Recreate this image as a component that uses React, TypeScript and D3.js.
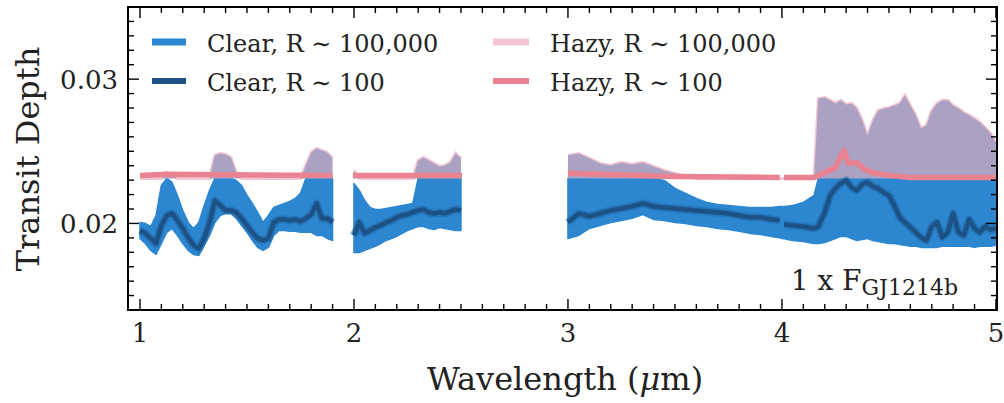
import React from 'react';
import * as d3 from 'd3';

// ---------------- DATA ----------------
// Segment 1 (1.0 - 1.9 micron)
const seg1Wave = [1.000, 1.025, 1.050, 1.075, 1.100, 1.125, 1.150, 1.175, 1.200, 1.225, 1.250, 1.275, 1.300, 1.325, 1.350, 1.375, 1.400, 1.425, 1.450, 1.475, 1.500, 1.525, 1.550, 1.575, 1.600, 1.625, 1.650, 1.675, 1.700, 1.725, 1.750, 1.775, 1.800, 1.825, 1.850, 1.875, 1.900];
const seg1ClearHi = [0.02007, 0.02000, 0.01979, 0.02055, 0.02263, 0.02312, 0.02284, 0.02194, 0.02090, 0.02007, 0.01965, 0.02007, 0.02125, 0.02229, 0.02312, 0.02312, 0.02312, 0.02312, 0.02298, 0.02263, 0.02194, 0.02139, 0.02076, 0.02007, 0.02055, 0.02111, 0.02125, 0.02139, 0.02152, 0.02173, 0.02208, 0.02312, 0.02312, 0.02312, 0.02312, 0.02312, 0.02312];
const seg1ClearLo = [0.01896, 0.01861, 0.01813, 0.01785, 0.01861, 0.01938, 0.01965, 0.01917, 0.01861, 0.01813, 0.01785, 0.01778, 0.01848, 0.01917, 0.02007, 0.02055, 0.02069, 0.02069, 0.02035, 0.01986, 0.01938, 0.01882, 0.01834, 0.01813, 0.01834, 0.01917, 0.01951, 0.01951, 0.01945, 0.01945, 0.01938, 0.01938, 0.01938, 0.01917, 0.01917, 0.01896, 0.01882];
const seg1ClearR100 = [0.01951, 0.01931, 0.01896, 0.01861, 0.01986, 0.02055, 0.02069, 0.02021, 0.01965, 0.01903, 0.01848, 0.01827, 0.01896, 0.02007, 0.02159, 0.02125, 0.02090, 0.02090, 0.02076, 0.02035, 0.01986, 0.01938, 0.01896, 0.01882, 0.01896, 0.02007, 0.02028, 0.02028, 0.02021, 0.02028, 0.02014, 0.02035, 0.02062, 0.02139, 0.02035, 0.02035, 0.02007];
const seg1HazyHi = [0.02312, 0.02312, 0.02312, 0.02312, 0.02312, 0.02353, 0.02340, 0.02312, 0.02312, 0.02312, 0.02312, 0.02312, 0.02312, 0.02312, 0.02471, 0.02485, 0.02478, 0.02457, 0.02353, 0.02312, 0.02312, 0.02312, 0.02312, 0.02312, 0.02312, 0.02312, 0.02312, 0.02312, 0.02312, 0.02312, 0.02312, 0.02402, 0.02492, 0.02520, 0.02506, 0.02492, 0.02451];

// Segment 2 (2.0 - 2.5 micron)
const seg2Wave = [2.000, 2.025, 2.050, 2.075, 2.100, 2.125, 2.150, 2.175, 2.200, 2.225, 2.250, 2.275, 2.300, 2.325, 2.350, 2.375, 2.400, 2.425, 2.450, 2.475, 2.500];
const seg2ClearHi = [0.02277, 0.02229, 0.02159, 0.02111, 0.02097, 0.02097, 0.02104, 0.02111, 0.02118, 0.02125, 0.02132, 0.02139, 0.02312, 0.02312, 0.02312, 0.02312, 0.02312, 0.02312, 0.02312, 0.02312, 0.02312];
const seg2ClearLo = [0.01799, 0.01799, 0.01813, 0.01827, 0.01841, 0.01861, 0.01882, 0.01896, 0.01910, 0.01931, 0.01951, 0.01965, 0.01979, 0.01979, 0.01965, 0.01958, 0.01972, 0.01965, 0.01958, 0.01951, 0.01951];
const seg2ClearR100 = [0.01917, 0.02007, 0.01931, 0.01951, 0.01972, 0.01986, 0.02007, 0.02021, 0.02042, 0.02055, 0.02062, 0.02076, 0.02090, 0.02097, 0.02076, 0.02069, 0.02076, 0.02069, 0.02083, 0.02097, 0.02090];
const seg2HazyHi = [0.02367, 0.02312, 0.02312, 0.02312, 0.02312, 0.02312, 0.02312, 0.02312, 0.02312, 0.02312, 0.02312, 0.02312, 0.02437, 0.02457, 0.02437, 0.02416, 0.02395, 0.02402, 0.02423, 0.02485, 0.02451];

// Segment 3 (3.0 - 5.0 micron)
const seg3Wave = [3.00, 3.05, 3.10, 3.15, 3.20, 3.25, 3.30, 3.35, 3.40, 3.45, 3.50, 3.55, 3.60, 3.65, 3.70, 3.75, 3.80, 3.85, 3.90, 3.95, 3.99, 4.00, 4.01, 4.05, 4.10, 4.15,
  4.170, 4.200, 4.225, 4.250, 4.275, 4.300, 4.325, 4.350, 4.375, 4.400, 4.425, 4.450, 4.475, 4.500, 4.525, 4.550, 4.575, 4.600, 4.625, 4.650, 4.675, 4.700, 4.725, 4.750, 4.775, 4.800, 4.825, 4.850, 4.875, 4.900, 4.925, 4.950, 4.975, 5.000];
const seg3ClearHi = [0.02312, 0.02312, 0.02312, 0.02312, 0.02312, 0.02312, 0.02312, 0.02312, 0.02312, 0.02298, 0.02243, 0.02208, 0.02173, 0.02146, 0.02132, 0.02125, 0.02118, 0.02111, 0.02111, 0.02111, 0.02118, 0.02118, 0.02118, 0.02125, 0.02146, 0.02194,
  0.02312, 0.02312, 0.02312, 0.02312, 0.02312, 0.02312, 0.02312, 0.02312, 0.02312, 0.02312, 0.02312, 0.02312, 0.02312, 0.02312, 0.02312, 0.02312, 0.02312, 0.02312, 0.02312, 0.02312, 0.02312, 0.02312, 0.02312, 0.02312, 0.02312, 0.02312, 0.02312, 0.02312, 0.02312, 0.02312, 0.02312, 0.02312, 0.02312, 0.02312];
const seg3ClearLo = [0.01896, 0.01917, 0.01965, 0.01986, 0.02007, 0.02021, 0.02035, 0.02062, 0.02028, 0.02021, 0.02007, 0.02000, 0.01986, 0.01979, 0.01965, 0.01958, 0.01945, 0.01931, 0.01924, 0.01910, 0.01900, 0.01896, 0.01893, 0.01882, 0.01875, 0.01861,
  0.01861, 0.01868, 0.01882, 0.01896, 0.01910, 0.01910, 0.01896, 0.01882, 0.01889, 0.01896, 0.01882, 0.01875, 0.01868, 0.01861, 0.01861, 0.01854, 0.01848, 0.01841, 0.01841, 0.01834, 0.01834, 0.01834, 0.01834, 0.01841, 0.01841, 0.01841, 0.01841, 0.01841, 0.01841, 0.01834, 0.01841, 0.01841, 0.01841, 0.01848];
const seg3ClearR100: (number | null)[] = [0.02007, 0.02069, 0.02049, 0.02069, 0.02090, 0.02104, 0.02118, 0.02139, 0.02118, 0.02111, 0.02104, 0.02097, 0.02090, 0.02083, 0.02076, 0.02069, 0.02055, 0.02042, 0.02042, 0.02028, 0.02021, null, 0.01993, 0.01986, 0.01979, 0.01965,
  0.01979, 0.02076, 0.02194, 0.02243, 0.02277, 0.02298, 0.02250, 0.02229, 0.02270, 0.02284, 0.02256, 0.02243, 0.02215, 0.02194, 0.02125, 0.02042, 0.02007, 0.01972, 0.01938, 0.01903, 0.01882, 0.01979, 0.02007, 0.01903, 0.01938, 0.02069, 0.01938, 0.01917, 0.02028, 0.01965, 0.01938, 0.01979, 0.01958, 0.01965];
const seg3HazyHi = [0.02471, 0.02485, 0.02451, 0.02416, 0.02402, 0.02423, 0.02409, 0.02423, 0.02395, 0.02367, 0.02347, 0.02326, 0.02312, 0.02312, 0.02312, 0.02312, 0.02312, 0.02312, 0.02312, 0.02312, 0.02312, 0.02312, 0.02312, 0.02312, 0.02312, 0.02312,
  0.02866, 0.02873, 0.02853, 0.02832, 0.02853, 0.02825, 0.02832, 0.02797, 0.02714, 0.02610, 0.02714, 0.02783, 0.02797, 0.02804, 0.02818, 0.02832, 0.02887, 0.02818, 0.02749, 0.02658, 0.02679, 0.02783, 0.02832, 0.02853, 0.02853, 0.02818, 0.02797, 0.02769, 0.02749, 0.02728, 0.02700, 0.02665, 0.02624, 0.02561];

// Flat top of the clear high-res band (hazy band starts from here)
const CLEAR_TOP = 0.02312;

// Hazy R~100 (binned) line, by segment
const hazyR100Wave1 = [1.00, 1.125, 1.90];
const hazyR100Val1 = [0.02333, 0.02340, 0.02333];
const hazyR100Wave2 = [1.995, 2.505];
const hazyR100Val2 = [0.02333, 0.02333];
const hazyR100Wave3 = [3.00, 3.50, 3.99];
const hazyR100Val3 = [0.02347, 0.02326, 0.02319];
const hazyR100Wave4 = [4.01, 4.15, 4.20, 4.25, 4.29, 4.31, 4.35, 4.38, 4.42, 4.50, 4.60, 5.00];
const hazyR100Val4 = [0.02319, 0.02319, 0.02353, 0.02388, 0.02506, 0.02416, 0.02423, 0.02381, 0.02353, 0.02333, 0.02319, 0.02319];

const xMajorTicks = [1, 2, 3, 4, 5];
const xTickLabels = ['1', '2', '3', '4', '5'];
const yMajorTicks = [0.02, 0.03];
const yTickLabels = ['0.02', '0.03'];

const legendLabels = ['Clear, R \u223C 100,000', 'Clear, R \u223C 100', 'Hazy, R \u223C 100,000', 'Hazy, R \u223C 100'];

// ---------------- STYLE ----------------
const FONT = "'DejaVu Serif', 'Liberation Serif', serif";
const C_BLUE = '#2c86d0';
const C_HALO = '#2168a6';
const C_DARK = '#1d5286';
const C_LAV = '#aba2c3';
const C_LPINK = '#f3c5d3';
const C_PINK = '#e98391';

export default function App() {
  const x = d3.scaleLinear().domain([0.944, 5.005]).range([128, 997]);
  const y = d3.scaleLinear().domain([0.014, 0.035]).range([310, 7]);
  const left = 128, right = 997, top = 7, bottom = 310;

  const segments = [
    { wave: seg1Wave, lo: seg1ClearLo, hi: seg1ClearHi, r100: seg1ClearR100 as (number | null)[], haze: seg1HazyHi },
    { wave: seg2Wave, lo: seg2ClearLo, hi: seg2ClearHi, r100: seg2ClearR100 as (number | null)[], haze: seg2HazyHi },
    { wave: seg3Wave, lo: seg3ClearLo, hi: seg3ClearHi, r100: seg3ClearR100, haze: seg3HazyHi },
  ];
  const hazyLines = [
    { w: hazyR100Wave1, v: hazyR100Val1 },
    { w: hazyR100Wave2, v: hazyR100Val2 },
    { w: hazyR100Wave3, v: hazyR100Val3 },
    { w: hazyR100Wave4, v: hazyR100Val4 },
  ];

  const xMinor = d3.range(10, 51).map((i) => i / 10);
  const yMinor = d3.range(14, 36).map((i) => i / 1000);

  return (
    <svg width={1004} height={403} style={{ position: 'absolute', left: 0, top: 0, background: '#fff' }}>
      <defs>
        <clipPath id="plotclip">
          <rect x={left} y={top} width={right - left} height={bottom - top} />
        </clipPath>
      </defs>
      <g clipPath="url(#plotclip)">
        {segments.map((s, k) => {
          const idx = s.wave.map((_, i) => i);
          const band = d3.area<number>().x((i) => x(s.wave[i])).y0((i) => y(s.lo[i])).y1((i) => y(s.hi[i]));
          const haze = d3.area<number>().x((i) => x(s.wave[i])).y0(() => y(CLEAR_TOP)).y1((i) => y(Math.max(s.haze[i], CLEAR_TOP)));
          const hazeTop = d3.line<number>().x((i) => x(s.wave[i])).y((i) => y(Math.max(s.haze[i], CLEAR_TOP)));
          return (
            <g key={'b' + k}>
              <path d={band(idx) || ''} fill={C_BLUE} stroke={C_BLUE} strokeWidth={1.5} strokeLinejoin="round" />
              <path d={hazeTop(idx) || ''} fill="none" stroke={C_LPINK} strokeWidth={3} />
              <path d={haze(idx) || ''} fill={C_LAV} />
            </g>
          );
        })}
        {segments.map((s, k) => {
          const idx = s.wave.map((_, i) => i);
          const line = d3.line<number>().defined((i) => s.r100[i] != null).x((i) => x(s.wave[i])).y((i) => y(s.r100[i] as number));
          const d = line(idx) || '';
          return (
            <g key={'d' + k}>
              <path d={d} fill="none" stroke={C_HALO} strokeWidth={8} strokeLinejoin="round" opacity={0.55} />
              <path d={d} fill="none" stroke={C_DARK} strokeWidth={4.5} strokeLinejoin="round" />
            </g>
          );
        })}
        {hazyLines.map((h, k) => {
          const idx = h.w.map((_, i) => i);
          const line = d3.line<number>().x((i) => x(h.w[i])).y((i) => y(h.v[i]));
          return <path key={'h' + k} d={line(idx) || ''} fill="none" stroke={C_PINK} strokeWidth={5.5} strokeLinejoin="round" />;
        })}
      </g>

      {/* ticks */}
      <g stroke="#000" strokeWidth={1.4}>
        {xMinor.map((t) => {
          const major = xMajorTicks.includes(t);
          const len = major ? 11 : 6;
          return (
            <g key={'xt' + t}>
              <line x1={x(t)} x2={x(t)} y1={bottom} y2={bottom - len} />
              <line x1={x(t)} x2={x(t)} y1={top} y2={top + len} />
            </g>
          );
        })}
        {yMinor.map((t) => {
          const major = yMajorTicks.some((m) => Math.abs(m - t) < 1e-9);
          const len = major ? 11 : 6;
          return (
            <g key={'yt' + t}>
              <line x1={left} x2={left + len} y1={y(t)} y2={y(t)} />
              <line x1={right} x2={right - len} y1={y(t)} y2={y(t)} />
            </g>
          );
        })}
      </g>
      <rect x={left} y={top} width={right - left} height={bottom - top} fill="none" stroke="#000" strokeWidth={2} />

      {/* tick labels */}
      <g fontFamily={FONT} fontSize={26} fill="#222">
        {xMajorTicks.map((t, i) => (
          <text key={'xl' + t} x={x(t)} y={342} textAnchor="middle">{xTickLabels[i]}</text>
        ))}
        {yMajorTicks.map((t, i) => (
          <text key={'yl' + t} x={118} y={y(t) + 9.5} textAnchor="end">{yTickLabels[i]}</text>
        ))}
      </g>

      {/* axis labels */}
      <text x={565} y={390} textAnchor="middle" fontFamily={FONT} fontSize={32} fill="#222">
        Wavelength (<tspan fontStyle="italic">{'\u03BC'}</tspan>m)
      </text>
      <text transform="translate(39,159) rotate(-90)" textAnchor="middle" fontFamily={FONT} fontSize={32} fill="#222">
        Transit Depth
      </text>

      {/* legend */}
      <g fontFamily={FONT} fontSize={24} fill="#222">
        <line x1={152} x2={186} y1={42} y2={42} stroke={C_BLUE} strokeWidth={7} />
        <text x={207} y={52}>{legendLabels[0]}</text>
        <line x1={152} x2={186} y1={81} y2={81} stroke={C_DARK} strokeWidth={6} />
        <text x={207} y={91}>{legendLabels[1]}</text>
        <line x1={493} x2={529} y1={42} y2={42} stroke={C_LPINK} strokeWidth={7} />
        <text x={550} y={52}>{legendLabels[2]}</text>
        <line x1={493} x2={529} y1={81} y2={81} stroke={C_PINK} strokeWidth={6} />
        <text x={550} y={91}>{legendLabels[3]}</text>
      </g>

      {/* annotation */}
      <text x={958} y={290} textAnchor="end" fontFamily={FONT} fontSize={28} fill="#222">
        1 x F<tspan fontSize={22} dy={5}>GJ1214b</tspan>
      </text>
    </svg>
  );
}
